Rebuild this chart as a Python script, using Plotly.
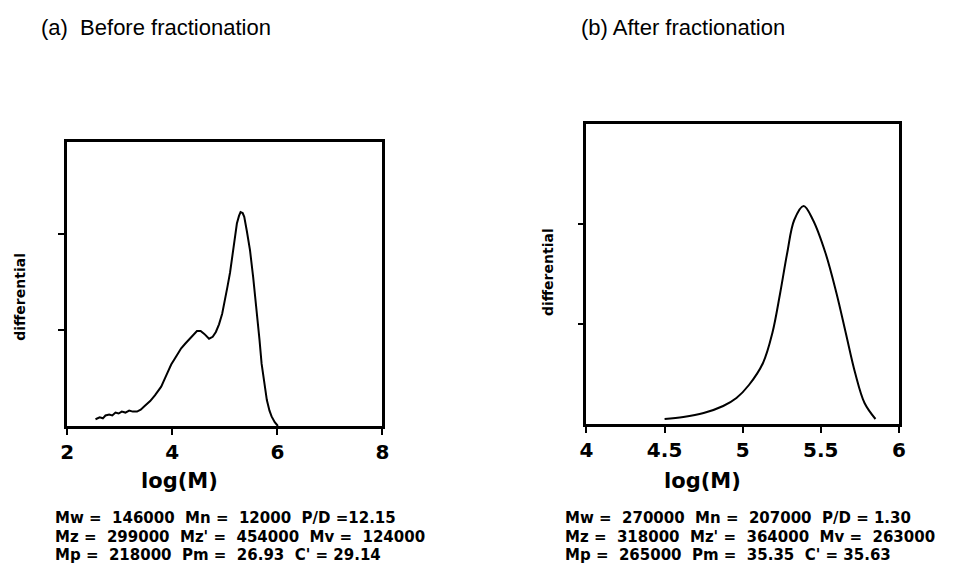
import plotly.graph_objects as go

# ---- data ----
before_logM = [2.54, 2.62, 2.68, 2.73, 2.80, 2.86, 2.92, 2.98, 3.04, 3.11, 3.18, 3.25, 3.33, 3.40, 3.48,
               3.58, 3.67, 3.79, 3.88, 3.98, 4.08, 4.17, 4.25, 4.33, 4.40, 4.47, 4.54, 4.61, 4.70,
               4.77, 4.83, 4.89, 4.95, 5.00, 5.05, 5.10, 5.14, 5.19, 5.23, 5.27, 5.30, 5.34, 5.37,
               5.42, 5.48, 5.54, 5.61, 5.66, 5.70, 5.75, 5.80, 5.85, 5.89, 5.95, 6.01]
before_diff = [0.07, 0.09, 0.08, 0.11, 0.12, 0.11, 0.14, 0.13, 0.15, 0.14, 0.16, 0.15, 0.15, 0.17, 0.21,
               0.26, 0.32, 0.41, 0.52, 0.64, 0.73, 0.81, 0.86, 0.91, 0.95, 0.99, 0.99, 0.96, 0.91,
               0.93, 0.98, 1.06, 1.17, 1.30, 1.45, 1.60, 1.76, 1.95, 2.11, 2.19, 2.23, 2.22, 2.18,
               2.03, 1.83, 1.55, 1.21, 0.90, 0.65, 0.44, 0.27, 0.16, 0.10, 0.04, 0.0]

after_logM = [4.50, 4.62, 4.75, 4.875, 4.96, 5.04, 5.13, 5.19, 5.24, 5.285, 5.33, 5.39,
              5.45, 5.53, 5.60, 5.66, 5.72, 5.78, 5.85]
after_diff = [0.05, 0.07, 0.11, 0.18, 0.26, 0.39, 0.61, 0.91, 1.31, 1.71, 2.04, 2.18,
              2.04, 1.71, 1.31, 0.91, 0.51, 0.21, 0.05]

left_xticks = [2, 4, 6, 8]
right_xticks = [4, 4.5, 5, 5.5, 6]
right_xlabels = ["4", "4.5", "5", "5.5", "6"]
y_ticks = [1, 2]

titles = ["(a)  Before fractionation", "(b) After fractionation"]
stats_before = ["Mw =  146000  Mn =  12000  P/D =12.15",
                "Mz =  299000  Mz' =  454000  Mv =  124000",
                "Mp =  218000  Pm =  26.93  C' = 29.14"]
stats_after = ["Mw =  270000  Mn =  207000  P/D = 1.30",
               "Mz =  318000  Mz' =  364000  Mv =  263000",
               "Mp =  265000  Pm =  35.35  C' = 35.63"]

W, H = 967, 587
BOLD = "DejaVu Sans"
TICKF = dict(family=BOLD, size=20, color="black", weight="bold")

fig = go.Figure()
fig.add_trace(go.Scatter(x=before_logM, y=before_diff, mode="lines",
                         line=dict(color="black", width=2), xaxis="x", yaxis="y", showlegend=False))
fig.add_trace(go.Scatter(x=after_logM, y=after_diff, mode="lines", line_shape="spline",
                         line=dict(color="black", width=2), xaxis="x2", yaxis="y2", showlegend=False))

axis_common = dict(showgrid=False, zeroline=False, showline=True, linecolor="black",
                   linewidth=2.5, mirror=True, ticks="outside", tickcolor="black",
                   tickwidth=2, ticklen=6)

fig.update_layout(
    width=W, height=H,
    margin=dict(l=0, r=0, t=0, b=0),
    paper_bgcolor="white", plot_bgcolor="white",
    xaxis=dict(domain=[61 / W, 381 / W], range=[2, 8], tickvals=left_xticks,
               tickfont=TICKF, anchor="y", **axis_common),
    yaxis=dict(domain=[1 - 426 / H, 1 - 142 / H], range=[0, 2.96], tickvals=y_ticks,
               showticklabels=False, anchor="x", **axis_common),
    xaxis2=dict(domain=[588 / W, 905 / W], range=[4, 6], tickvals=right_xticks,
                ticktext=right_xlabels, tickfont=TICKF, anchor="y2", **axis_common),
    yaxis2=dict(domain=[1 - 424 / H, 1 - 124 / H], range=[0, 3], tickvals=y_ticks,
                showticklabels=False, anchor="x2", **axis_common),
)

ann = []
title_font = dict(family="Liberation Sans, Arial", size=22, color="black")
ann.append(dict(x=32 / W, y=1 - 27 / H, text=titles[0], xanchor="left", yanchor="middle",
                font=title_font))
ann.append(dict(x=580 / W, y=1 - 27 / H, text=titles[1], xanchor="left", yanchor="middle",
                font=title_font))
# axis titles
for xc in [175, 706]:
    ann.append(dict(x=xc / W, y=1 - 481 / H, text="<b>log(M)</b>", xanchor="center", yanchor="middle",
                    font=dict(family=BOLD, size=21, color="black")))
ann.append(dict(x=13 / W, y=1 - 297 / H, text="<b>differential</b>", textangle=-90,
                xanchor="center", yanchor="middle", font=dict(family=BOLD, size=14, color="black")))
ann.append(dict(x=549 / W, y=1 - 272 / H, text="<b>differential</b>", textangle=-90,
                xanchor="center", yanchor="middle", font=dict(family=BOLD, size=14, color="black")))
# statistics
for i, (a, b) in enumerate(zip(stats_before, stats_after)):
    yy = 1 - (518 + 18.5 * i) / H
    ann.append(dict(x=47 / W, y=yy, text="<b>" + a + "</b>", xanchor="left", yanchor="middle",
                    font=dict(family=BOLD, size=15, color="black")))
    ann.append(dict(x=564 / W, y=yy, text="<b>" + b + "</b>", xanchor="left", yanchor="middle",
                    font=dict(family=BOLD, size=15, color="black")))
for a in ann:
    a.update(xref="paper", yref="paper", showarrow=False)
fig.update_layout(annotations=ann)

fig.write_html("out.html")
